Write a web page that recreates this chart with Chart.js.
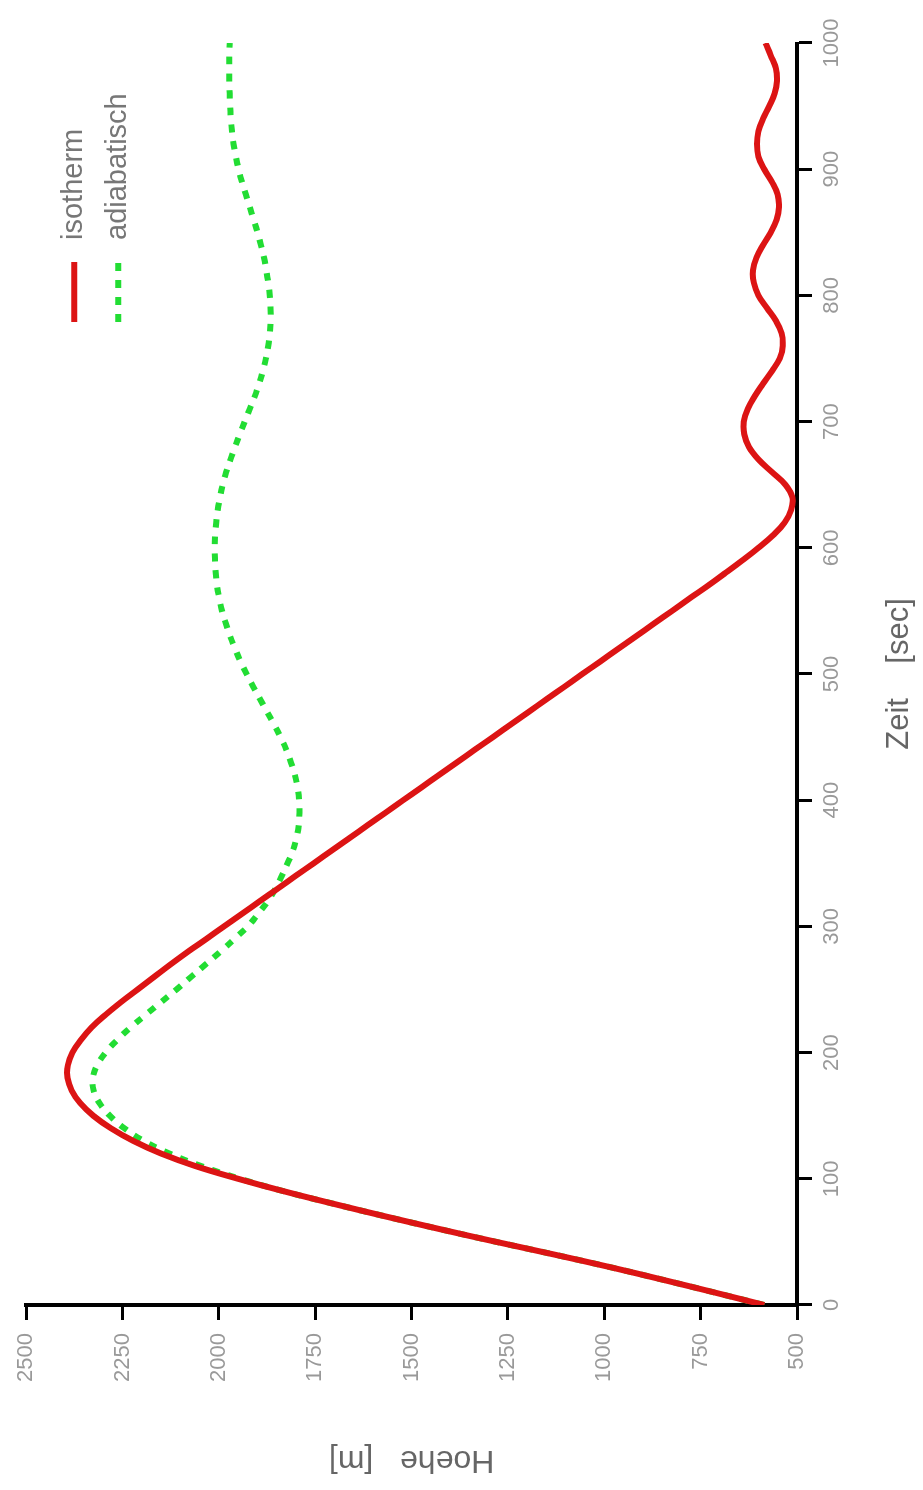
<!DOCTYPE html>
<html>
<head>
<meta charset="utf-8">
<title>Hoehe / Zeit</title>
<script src="https://cdn.jsdelivr.net/npm/chart.js@4.4.1/dist/chart.umd.min.js"></script>
<style>
  html, body { margin: 0; padding: 0; background: #fff; overflow: hidden; }
  /* the plot is drawn upright and then turned a quarter to the left */
  #wrap {
    position: absolute; left: 0; top: 0;
    width: 1490px; height: 923px;
    transform-origin: 0 0;
    transform: translate(0, 1490px) rotate(-90deg);
  }
</style>
</head>
<body>
<div id="wrap"><canvas id="hoeheChart" width="1490" height="923"></canvas></div>
<script>
// Zeit [sec]
const zeit = [
  0, 10, 20, 30, 40, 50, 60, 70, 80, 90,
  100, 110, 120, 130, 140, 150, 160, 170, 180, 190,
  200, 210, 220, 230, 240, 250, 260, 270, 280, 290,
  300, 310, 320, 330, 340, 350, 360, 370, 380, 390,
  400, 410, 420, 430, 440, 450, 460, 470, 480, 490,
  500, 510, 520, 530, 540, 550, 560, 570, 580, 590,
  600, 610, 620, 630, 640, 650, 660, 670, 680, 690,
  700, 710, 720, 730, 740, 750, 760, 770, 780, 790,
  800, 810, 820, 830, 840, 850, 860, 870, 880, 890,
  900, 910, 920, 930, 940, 950, 960, 970, 980, 990,
  1000
];

// Hoehe [m], isotherm
const isotherm = [
  585, 715, 848, 985, 1130, 1280, 1425, 1565, 1700, 1830,
  1950, 2060, 2150, 2222, 2280, 2326, 2360, 2382, 2393, 2392,
  2380, 2358, 2330, 2294, 2254, 2211, 2168, 2125, 2080, 2033,
  1987, 1940, 1894, 1847, 1801, 1754, 1708, 1661, 1615, 1568,
  1522, 1475, 1429, 1382, 1336, 1289, 1243, 1196, 1150, 1103,
  1057, 1010, 964, 917, 871, 824, 778, 731, 686, 642,
  600, 562, 532, 515, 512, 530, 565, 600, 625, 637,
  638, 628, 610, 588, 565, 545, 537, 540, 555, 578,
  600, 612, 614, 605, 588, 568, 553, 547, 550, 565,
  585, 600, 604, 600, 588, 572, 558, 552, 555, 568,
  582
];

// Hoehe [m], adiabatisch
const adiabatisch = [
  585, 715, 848, 985, 1130, 1280, 1425, 1565, 1700, 1830,
  1945, 2045, 2128, 2195, 2245, 2283, 2310, 2325, 2327, 2316,
  2294, 2264, 2229, 2190, 2150, 2110, 2072, 2034, 1996, 1960,
  1925, 1898, 1873, 1853, 1837, 1822, 1808, 1799, 1793, 1791,
  1792, 1796, 1803, 1813, 1825, 1840, 1857, 1875, 1893, 1911,
  1928, 1944, 1958, 1971, 1982, 1992, 1999, 2005, 2008, 2010,
  2011, 2010, 2007, 2003, 1997, 1990, 1981, 1970, 1958, 1946,
  1933, 1920, 1907, 1896, 1886, 1878, 1872, 1868, 1866, 1866,
  1868, 1872, 1877, 1883, 1891, 1900, 1910, 1920, 1930, 1940,
  1949, 1956, 1962, 1966, 1969, 1971, 1972, 1973, 1973, 1973,
  1972
];

const seriesNames = ['isotherm', 'adiabatisch'];

const FONT = "'Liberation Sans', Arial, sans-serif";

// legend: short line + name, stacked, top right of the plot
const cornerLegend = {
  id: 'cornerLegend',
  afterDraw(chart) {
    const ctx = chart.ctx;
    const x0 = chart.chartArea.right - 279;
    ctx.save();
    chart.data.datasets.forEach((ds, i) => {
      const y = chart.chartArea.top + 48 + i * 44;
      ctx.beginPath();
      ctx.lineWidth = ds.borderWidth;
      ctx.strokeStyle = ds.borderColor;
      ctx.setLineDash(ds.borderDash || []);
      ctx.moveTo(x0, y);
      ctx.lineTo(x0 + 60, y);
      ctx.stroke();
      ctx.setLineDash([]);
      ctx.fillStyle = '#777';
      ctx.font = '29px ' + FONT;
      ctx.textBaseline = 'middle';
      ctx.fillText(ds.label, x0 + 82, y);
    });
    ctx.restore();
  }
};

const plainTick = v => String(v);

const ctx = document.getElementById('hoeheChart').getContext('2d');
new Chart(ctx, {
  type: 'line',
  data: {
    datasets: [
      {
        label: seriesNames[0],
        data: zeit.map((t, i) => ({ x: t, y: isotherm[i] })),
        borderColor: '#dc1414',
        borderWidth: 6,
        pointRadius: 0,
        tension: 0.4,
        fill: false
      },
      {
        label: seriesNames[1],
        data: zeit.map((t, i) => ({ x: t, y: adiabatisch[i] })),
        borderColor: '#22dd33',
        borderWidth: 6,
        borderDash: [8, 9],
        borderCapStyle: 'butt',
        pointRadius: 0,
        tension: 0.4,
        fill: false
      }
    ]
  },
  options: {
    responsive: false,
    animation: false,
    devicePixelRatio: 1,
    layout: { padding: { left: 0, top: 25, right: 43, bottom: 0 } },
    plugins: {
      legend: { display: false },
      tooltip: { enabled: false }
    },
    scales: {
      x: {
        type: 'linear',
        min: 0,
        max: 1000,
        afterFit: s => { s.height = 126; },
        ticks: { stepSize: 100, color: '#999', padding: 7, font: { family: FONT, size: 22 }, callback: plainTick },
        grid: { drawOnChartArea: false, tickLength: 15, tickWidth: 3, tickColor: '#000' },
        border: { display: true, color: '#000', width: 4 },
        title: {
          display: true,
          text: 'Zeit    [sec]',
          color: '#666',
          font: { family: FONT, size: 31 },
          padding: { top: 0, bottom: 5 }
        }
      },
      y: {
        type: 'linear',
        min: 500,
        max: 2500,
        afterFit: s => { s.width = 185; },
        ticks: { stepSize: 250, color: '#999', padding: 13, font: { family: FONT, size: 22 }, callback: plainTick },
        grid: { drawOnChartArea: false, tickLength: 15, tickWidth: 3, tickColor: '#000' },
        border: { display: true, color: '#000', width: 4 },
        title: {
          display: true,
          text: 'Hoehe   [m]',
          color: '#666',
          font: { family: FONT, size: 32 },
          padding: { top: 11, bottom: 0 }
        }
      }
    }
  },
  plugins: [cornerLegend]
});
</script>
</body>
</html>
